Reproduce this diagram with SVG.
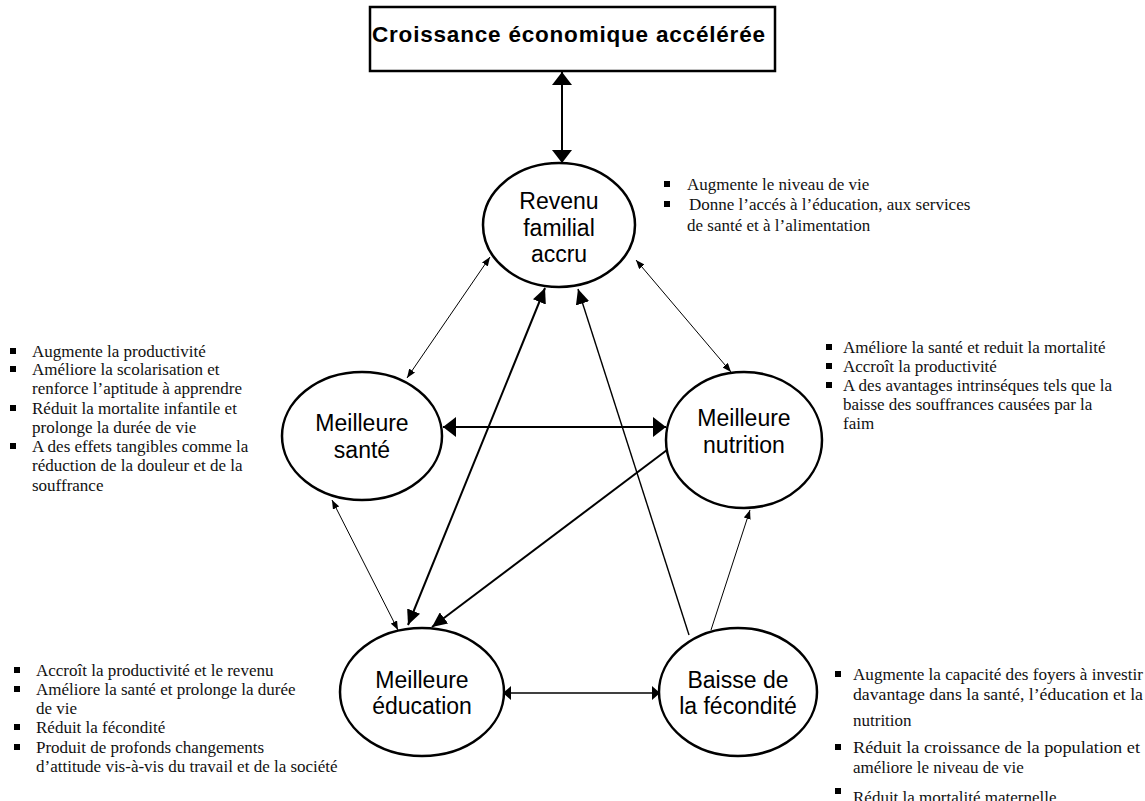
<svg xmlns="http://www.w3.org/2000/svg" width="1145" height="801" viewBox="0 0 1145 801">
<defs>
<style>
.nd ellipse{fill:#fff;stroke:#000;stroke-width:2.5}
.nl{font-family:"Liberation Sans",Arial,sans-serif;font-size:23px;text-anchor:middle;fill:#000}
.tt{font-family:"Liberation Sans",Arial,sans-serif;font-size:22.5px;font-weight:bold;fill:#000}
.b{font-family:"Liberation Serif","Times New Roman",serif;font-size:17px;fill:#111}
.sq{fill:#000}
.thick{stroke:#000;stroke-width:2;fill:none}
.mid{stroke:#000;stroke-width:1.4;fill:none}
.thin{stroke:#000;stroke-width:1;fill:none}
</style>
<marker id="hw" markerUnits="userSpaceOnUse" viewBox="0 0 13 20" markerWidth="13" markerHeight="20" refX="13" refY="10" orient="auto-start-reverse"><path d="M0,0 L13,10 L0,20 z" fill="#000"/></marker>
<marker id="hl" markerUnits="userSpaceOnUse" viewBox="0 0 15 14" markerWidth="15" markerHeight="14" refX="15" refY="7" orient="auto-start-reverse"><path d="M0,0 L15,7 L0,14 z" fill="#000"/></marker>
<marker id="hm" markerUnits="userSpaceOnUse" viewBox="0 0 8 14" markerWidth="8" markerHeight="14" refX="8" refY="7" orient="auto-start-reverse"><path d="M0,0 L8,7 L0,14 z" fill="#000"/></marker>
<marker id="hs" markerUnits="userSpaceOnUse" viewBox="0 0 9 7" markerWidth="9" markerHeight="7" refX="9" refY="3.5" orient="auto-start-reverse"><path d="M0,0 L9,3.5 L0,7 z" fill="#000"/></marker>
</defs>
<rect width="1145" height="801" fill="#fff"/>

<g id="connectors">
<line class="thick" x1="562" y1="72" x2="562" y2="163" marker-start="url(#hw)" marker-end="url(#hw)"/>
<line class="thin" x1="490" y1="257" x2="407" y2="378" marker-start="url(#hs)" marker-end="url(#hs)"/>
<line class="thin" x1="636" y1="260" x2="731" y2="372" marker-start="url(#hs)" marker-end="url(#hs)"/>
<line class="thick" x1="443" y1="427" x2="666" y2="427" marker-start="url(#hw)" marker-end="url(#hw)"/>
<line class="thick" x1="545" y1="288" x2="408" y2="625" marker-start="url(#hl)" marker-end="url(#hl)"/>
<line class="mid" x1="689" y1="635" x2="578" y2="289" marker-end="url(#hl)"/>
<line class="thick" x1="667" y1="450" x2="432" y2="627" marker-end="url(#hl)"/>
<line class="thin" x1="332" y1="500" x2="398" y2="630" marker-start="url(#hs)" marker-end="url(#hs)"/>
<line class="thin" x1="711" y1="630" x2="750" y2="510" marker-end="url(#hs)"/>
<line class="mid" x1="503" y1="693" x2="660" y2="693" marker-start="url(#hm)" marker-end="url(#hm)"/>
</g>

<g id="croissance">
<rect x="370" y="7" width="405" height="64" fill="#fff" stroke="#000" stroke-width="2.5"/>
<text class="tt" x="372" y="42" textLength="393" lengthAdjust="spacing">Croissance économique accélérée</text>
</g>

<g id="revenu" class="nd">
<ellipse cx="559" cy="225" rx="76" ry="62"/>
<text class="nl" x="559" y="209">Revenu</text>
<text class="nl" x="559" y="236">familial</text>
<text class="nl" x="559" y="262">accru</text>
</g>

<g id="sante" class="nd">
<ellipse cx="362" cy="436" rx="80" ry="64"/>
<text class="nl" x="362" y="431">Meilleure</text>
<text class="nl" x="362" y="458">santé</text>
</g>

<g id="nutrition" class="nd">
<ellipse cx="744" cy="440" rx="78" ry="68"/>
<text class="nl" x="744" y="426">Meilleure</text>
<text class="nl" x="744" y="453">nutrition</text>
</g>

<g id="education" class="nd">
<ellipse cx="422" cy="692" rx="82" ry="64"/>
<text class="nl" x="422" y="688">Meilleure</text>
<text class="nl" x="422" y="714">éducation</text>
</g>

<g id="fecondite" class="nd">
<ellipse cx="738" cy="692" rx="79" ry="64"/>
<text class="nl" x="738" y="688">Baisse de</text>
<text class="nl" x="738" y="714">la fécondité</text>
</g>

<g id="notes-revenu">
<rect class="sq" x="664" y="181" width="6" height="6"/>
<text class="b" x="687" y="190">Augmente le niveau de vie</text>
<rect class="sq" x="664" y="201" width="6" height="6"/>
<text class="b" x="689" y="210">Donne l’accés à l’éducation, aux services</text>
<text class="b" x="687" y="231">de santé et à l’alimentation</text>
</g>

<g id="notes-sante">
<rect class="sq" x="10" y="348" width="6" height="6"/>
<text class="b" x="32" y="357">Augmente la productivité</text>
<rect class="sq" x="10" y="366" width="6" height="6"/>
<text class="b" x="32" y="375">Améliore la scolarisation et</text>
<text class="b" x="32" y="394">renforce l’aptitude à apprendre</text>
<rect class="sq" x="10" y="405" width="6" height="6"/>
<text class="b" x="32" y="414">Réduit la mortalite infantile et</text>
<text class="b" x="32" y="433">prolonge la durée de vie</text>
<rect class="sq" x="10" y="443" width="6" height="6"/>
<text class="b" x="32" y="452">A des effets tangibles comme la</text>
<text class="b" x="32" y="471">réduction de la douleur et de la</text>
<text class="b" x="32" y="491">souffrance</text>
</g>

<g id="notes-nutrition">
<rect class="sq" x="826" y="344" width="6" height="6"/>
<text class="b" x="843" y="353">Améliore la santé et reduit la mortalité</text>
<rect class="sq" x="826" y="363" width="6" height="6"/>
<text class="b" x="843" y="372">Accroît la productivité</text>
<rect class="sq" x="826" y="382" width="6" height="6"/>
<text class="b" x="843" y="391">A des avantages intrinséques tels que la</text>
<text class="b" x="843" y="410">baisse des souffrances causées par la</text>
<text class="b" x="843" y="429">faim</text>
</g>

<g id="notes-education">
<rect class="sq" x="14" y="667" width="6" height="6"/>
<text class="b" x="36" y="676">Accroît la productivité et le revenu</text>
<rect class="sq" x="14" y="686" width="6" height="6"/>
<text class="b" x="36" y="695">Améliore la santé et prolonge la durée</text>
<text class="b" x="36" y="714">de vie</text>
<rect class="sq" x="14" y="724" width="6" height="6"/>
<text class="b" x="36" y="733">Réduit la fécondité</text>
<rect class="sq" x="14" y="744" width="6" height="6"/>
<text class="b" x="36" y="753">Produit de profonds changements</text>
<text class="b" x="36" y="772">d’attitude vis-à-vis du travail et de la société</text>
</g>

<g id="notes-fecondite">
<rect class="sq" x="835" y="671" width="6" height="6"/>
<text class="b" x="853" y="680" textLength="290" lengthAdjust="spacingAndGlyphs">Augmente la capacité des foyers à investir</text>
<text class="b" x="853" y="700" textLength="290" lengthAdjust="spacingAndGlyphs">davantage dans la santé, l’éducation et la</text>
<text class="b" x="853" y="726">nutrition</text>
<rect class="sq" x="835" y="744" width="6" height="6"/>
<text class="b" x="853" y="753" textLength="287" lengthAdjust="spacingAndGlyphs">Réduit la croissance de la population et</text>
<text class="b" x="853" y="773">améliore le niveau de vie</text>
<rect class="sq" x="835" y="788" width="6" height="6"/>
<text class="b" x="853" y="803">Réduit la mortalité maternelle</text>
</g>
</svg>
